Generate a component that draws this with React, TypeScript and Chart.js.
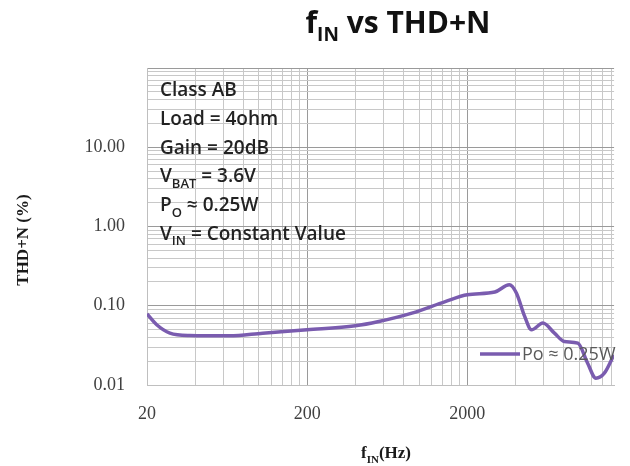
import React, { useEffect, useRef } from "react";
import { Chart, registerables } from "chart.js";

Chart.register(...registerables);

// ---- data ----
const freqHz = [20, 23, 27.8, 37, 65.6, 105.6, 200, 400, 560, 902, 1456, 2000, 2972, 3660, 4050, 4563, 5030, 5930, 7000, 8080, 9800, 11280, 12700, 14340, 16460];
const thdPct = [0.079, 0.0575, 0.0451, 0.0421, 0.0417, 0.0451, 0.0497, 0.0558, 0.0633, 0.0808, 0.113, 0.138, 0.149, 0.184, 0.145, 0.0733, 0.0497, 0.0604, 0.0451, 0.0354, 0.0337, 0.0188, 0.0122, 0.0141, 0.024];
const seriesLabel = "Po ≈ 0.25W";
const xLabelValues = [20, 200, 2000];
const yLabelValues = [0.01, 0.1, 1, 10];
const noteLines: { text: string; sub?: boolean }[][] = [
  [{ text: "Class AB" }],
  [{ text: "Load = 4ohm" }],
  [{ text: "Gain = 20dB" }],
  [{ text: "V" }, { text: "BAT", sub: true }, { text: " = 3.6V" }],
  [{ text: "P" }, { text: "O", sub: true }, { text: " ≈ 0.25W" }],
  [{ text: "V" }, { text: "IN", sub: true }, { text: " = Constant Value" }],
];
const titleParts = [{ text: "f" }, { text: "IN", sub: true }, { text: " vs THD+N" }];
const xTitleParts = [{ text: "f" }, { text: "IN", sub: true }, { text: "(Hz)" }];
const yTitle = "THD+N (%)";

const LINE_COLOR = "#7a5caf";

function xTicks() {
  const out: number[] = [];
  for (let e = 0; e < 3; e++) {
    for (let k = 1; k <= 9; k++) out.push(20 * k * Math.pow(10, e));
  }
  return out.filter((v) => v <= 16500);
}
function yTicks() {
  const out: number[] = [];
  for (let e = -2; e <= 1; e++) {
    for (let k = 1; k <= 9; k++) out.push(Number((k * Math.pow(10, e)).toPrecision(3)));
  }
  out.push(100);
  return out;
}
const isMajorX = (v: number) => xLabelValues.some((m) => Math.abs(m - v) < 1e-6 * m);
const isMajorY = (v: number) => [0.01, 0.1, 1, 10, 100].some((m) => Math.abs(m - v) < 1e-6 * m);

function drawRich(
  ctx: CanvasRenderingContext2D,
  parts: { text: string; sub?: boolean }[],
  x: number,
  y: number,
  size: number,
  family: string,
  weight: string,
  color: string,
  align: "left" | "center",
  subScale = 0.62
) {
  const fontFor = (sub?: boolean) => `${weight} ${sub ? Math.round(size * subScale) : size}px ${family}`;
  let total = 0;
  for (const p of parts) {
    ctx.font = fontFor(p.sub);
    total += ctx.measureText(p.text).width;
  }
  let cx = align === "center" ? x - total / 2 : x;
  ctx.textAlign = "left";
  ctx.textBaseline = "alphabetic";
  ctx.fillStyle = color;
  for (const p of parts) {
    ctx.font = fontFor(p.sub);
    ctx.fillText(p.text, cx, y + (p.sub ? size * 0.28 : 0));
    cx += ctx.measureText(p.text).width;
  }
}

const decorPlugin = {
  id: "decor",
  afterDraw(chart: any) {
    const ctx: CanvasRenderingContext2D = chart.ctx;
    ctx.save();
    // title
    drawRich(ctx, titleParts, 398, 33, 30, "'Open Sans', sans-serif", "bold", "#111", "center");
    // x title
    drawRich(ctx, xTitleParts, 386, 458, 17, "'Liberation Serif', serif", "bold", "#1a1a1a", "center");
    // y title
    ctx.translate(24, 240);
    ctx.rotate(-Math.PI / 2);
    ctx.font = "bold 17px 'Liberation Serif', serif";
    ctx.fillStyle = "#1a1a1a";
    ctx.textAlign = "center";
    ctx.textBaseline = "middle";
    ctx.fillText(yTitle, 0, 0);
    ctx.setTransform(1, 0, 0, 1, 0, 0);
    // note box
    noteLines.forEach((line, i) => {
      drawRich(ctx, line, 160, 96 + i * 28.8, 19, "'Open Sans', sans-serif", "600", "#222", "left", 0.7);
    });
    // legend
    ctx.strokeStyle = LINE_COLOR;
    ctx.lineWidth = 3.5;
    ctx.beginPath();
    ctx.moveTo(480, 354);
    ctx.lineTo(520, 354);
    ctx.stroke();
    ctx.font = "18px 'Open Sans', sans-serif";
    ctx.fillStyle = "#595959";
    ctx.textAlign = "left";
    ctx.textBaseline = "middle";
    ctx.fillText(chart.data.datasets[0].label, 522, 355);
    ctx.restore();
  },
};

export default function App() {
  const ref = useRef<HTMLCanvasElement>(null);
  useEffect(() => {
    if (!ref.current) return;
    const chart = new Chart(ref.current, {
      type: "line",
      data: {
        datasets: [
          {
            label: seriesLabel,
            data: freqHz.map((f, i) => ({ x: f, y: thdPct[i] })),
            borderColor: LINE_COLOR,
            borderWidth: 3.5,
            pointRadius: 0,
            cubicInterpolationMode: "monotone",
            fill: false,
          },
        ],
      },
      options: {
        animation: false,
        responsive: false,
        layout: { padding: { top: 68, right: 13, left: 0, bottom: 0 } },
        plugins: { legend: { display: false }, title: { display: false }, tooltip: { enabled: false } },
        scales: {
          x: {
            type: "logarithmic",
            min: 20,
            max: 16500,
            afterBuildTicks: (s: any) => {
              s.ticks = xTicks().map((v) => ({ value: v }));
            },
            afterFit: (s: any) => {
              s.height = 81;
            },
            ticks: {
              autoSkip: false,
              maxRotation: 0,
              padding: 18,
              font: { family: "'Liberation Serif', serif", size: 18 },
              color: "#404040",
              callback: (v: any) => (isMajorX(Number(v)) ? String(v) : ""),
            },
            grid: {
              drawTicks: false,
              color: (c: any) => (isMajorX(c.tick?.value) ? "#9a9a9a" : "#c8c8c8"),
              lineWidth: 1,
            },
            border: { color: "#bfbfbf" },
          },
          y: {
            type: "logarithmic",
            min: 0.01,
            max: 100,
            afterBuildTicks: (s: any) => {
              s.ticks = yTicks().map((v) => ({ value: v }));
            },
            afterFit: (s: any) => {
              s.width = 147;
            },
            ticks: {
              autoSkip: false,
              padding: 22,
              font: { family: "'Liberation Serif', serif", size: 18 },
              color: "#404040",
              callback: (v: any) => (yLabelValues.some((m) => Math.abs(m - Number(v)) < 1e-6 * m) ? Number(v).toFixed(2) : ""),
            },
            grid: {
              drawTicks: false,
              color: (c: any) => (isMajorY(c.tick?.value) ? "#9a9a9a" : "#c8c8c8"),
              lineWidth: 1,
            },
            border: { color: "#bfbfbf" },
          },
        },
      },
      plugins: [decorPlugin],
    });
    return () => chart.destroy();
  }, []);
  return (
    <div style={{ position: "absolute", left: 0, top: 0, width: 630, height: 466, background: "#fff" }}>
      <canvas ref={ref} width={630} height={466} style={{ display: "block" }} />
    </div>
  );
}
